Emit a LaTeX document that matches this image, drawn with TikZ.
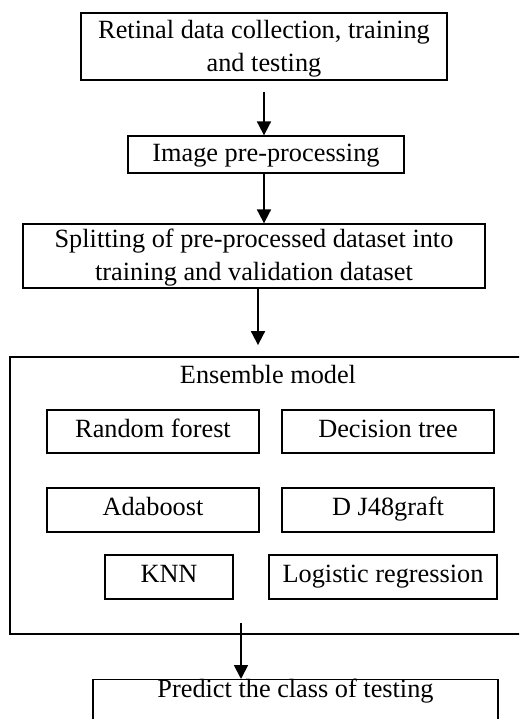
\documentclass[tikz,border=0pt]{standalone}
\usepackage{fontspec}
\setmainfont{Liberation Serif}
\usetikzlibrary{arrows.meta,calc}
\begin{document}
\begin{tikzpicture}[x=1pt,y=-1pt,
  every node/.style={font=\fontsize{26.3}{33}\selectfont},
  box/.style={draw,line width=1.3pt,inner sep=0pt,align=center},
  line/.style={text height=17.5pt,text depth=6.5pt},
  txt/.style={inner sep=0pt,align=center},
  arr/.style={line width=1.8pt,-{Triangle[width=14pt,length=14pt]}}]
  \useasboundingbox (0,0) rectangle (519,719);
  \clip (0,0) rectangle (519,719);

  % pipeline stages
  \node[box,text height=51pt,text depth=0pt,minimum width=366pt,minimum height=67pt] (collect) at (264,46.5)
    {Retinal data collection, training\\and testing};
  \node[box,text height=21.5pt,text depth=6.5pt,minimum width=276pt,minimum height=37pt] (prep) at (266,154.5)
    {Image pre-processing};
  \node[box,text height=48pt,text depth=0pt,minimum width=462pt,minimum height=64pt] (split) at (254,256)
    {Splitting of pre-processed dataset into\\training and validation dataset};

  % ensemble container and its members
  \node[box,line width=1.8pt,minimum width=530pt,minimum height=277pt] (ens) at (275,495.5) {};
  \node[txt,line] (enstitle) at (268,377.5) {Ensemble model};
  \node[box,line,minimum width=212pt,minimum height=43pt] (rf)  at (153,431.5) {Random forest};
  \node[box,line,minimum width=212pt,minimum height=43pt] (dt)  at (388,431.5) {Decision tree};
  \node[box,line,minimum width=212pt,minimum height=44pt] (ada) at (153,510) {Adaboost};
  \node[box,line,minimum width=212pt,minimum height=44pt] (j48) at (388,510) {D J48graft};
  \node[box,line,minimum width=128pt,minimum height=44pt] (knn) at (169,577) {KNN};
  \node[box,line,minimum width=228pt,minimum height=44pt] (lr)  at (383,577) {Logistic regression};

  % prediction stage
  \node[box,minimum width=405pt,minimum height=70pt,anchor=north] (pred) at (295.5,679) {};
  \node[txt,line] (predtext) at (295.5,691.5) {Predict the class of testing};

  % connectors
  \draw[arr] ([yshift=-11pt]collect.south) -- (collect.south |- prep.north);
  \draw[arr] (collect.south |- prep.south) -- (collect.south |- split.north);
  \coordinate (a3) at (258,288);
  \draw[arr] (a3) -- ([yshift=11pt]a3 |- ens.north);
  \coordinate (a4) at (241,623);
  \draw[arr] (a4) -- (a4 |- pred.north);
\end{tikzpicture}
\end{document}
